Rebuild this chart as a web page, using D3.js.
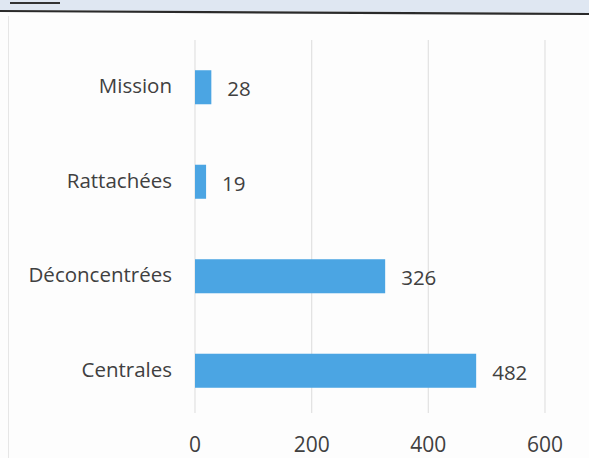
<!DOCTYPE html>
<html><head><meta charset="utf-8">
<script src="https://cdn.jsdelivr.net/npm/d3@7"></script>
<style>html,body{margin:0;padding:0;background:#fff;}</style>
</head><body>
<svg id="c" width="589" height="458"></svg>
<script>
const categories = ["Mission", "Rattachées", "Déconcentrées", "Centrales"];
const values = [28, 19, 326, 482];
const ticks = [0, 200, 400, 600];

const svg = d3.select("#c");
const W = 589, H = 458;
svg.append("rect").attr("width", W).attr("height", H).attr("fill", "#fdfdfd");
// top band from scanned page
svg.append("path").attr("d", `M0,0 H${W} V13 L0,10 Z`).attr("fill", "#dfe7f2");
svg.append("path").attr("d", `M0,11 L${W},14`).attr("stroke", "#2a2a2a").attr("stroke-width", 2.2);
svg.append("path").attr("d", `M10,3 H60`).attr("stroke", "#333").attr("stroke-width", 2);
svg.append("path").attr("d", `M8.5,16 V${H}`).attr("stroke", "#e6e6e6").attr("stroke-width", 1);

const x = d3.scaleLinear().domain([0, 600]).range([195, 545]);
const y = d3.scaleBand().domain(categories).range([40, 418]).paddingInner(0.64).paddingOuter(0.32);

const grid = svg.append("g");
grid.selectAll("line").data(ticks).join("line")
  .attr("x1", d => x(d)).attr("x2", d => x(d))
  .attr("y1", 40).attr("y2", 413)
  .attr("stroke", "#e2e2e2").attr("stroke-width", 1.2);

const font = "'Open Sans', sans-serif";
svg.append("g").selectAll("text").data(ticks).join("text")
  .attr("x", d => x(d)).attr("y", 452)
  .attr("text-anchor", "middle")
  .attr("font-family", font).attr("font-size", 21).attr("fill", "#404040")
  .text(d => d);

svg.append("g").selectAll("rect").data(values).join("rect")
  .attr("x", x(0)).attr("y", (d, i) => y(categories[i]))
  .attr("width", d => x(d) - x(0)).attr("height", y.bandwidth())
  .attr("fill", "#4ba5e3");

svg.append("g").selectAll("text").data(values).join("text")
  .attr("x", d => x(d) + 16).attr("y", (d, i) => y(categories[i]) + y.bandwidth() / 2 + 9)
  .attr("font-family", font).attr("font-size", 20.5).attr("fill", "#404040")
  .text(d => d);

svg.append("g").selectAll("text").data(categories).join("text")
  .attr("x", 172).attr("y", d => y(d) + y.bandwidth() / 2 + 6)
  .attr("text-anchor", "end")
  .attr("font-family", font).attr("font-size", 20.5).attr("fill", "#404040")
  .text(d => d);
</script>
</body></html>
